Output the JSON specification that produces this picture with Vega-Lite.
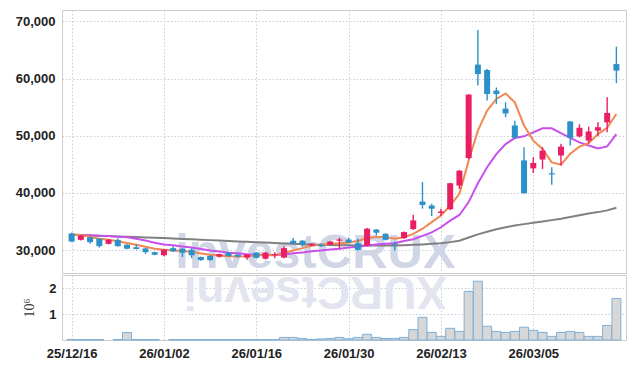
{
  "$schema": "https://vega.github.io/schema/vega-lite/v6.json",
  "padding": {"left": 13, "top": 9, "right": 8, "bottom": 5},
  "background": "white",
  "spacing": 0,
  "datasets": {
    "ohlc": [
      {"i":0,"date":"25/12/16","open":32900,"high":33050,"low":31400,"close":31500,"vol":20000,"ma5":32750,"ma20":32700,"ma60":32700},
      {"i":1,"date":"25/12/17","open":31800,"high":32650,"low":31700,"close":32550,"vol":20000,"ma5":32600,"ma20":32650,"ma60":32640},
      {"i":2,"date":"25/12/18","open":32250,"high":32400,"low":31100,"close":31400,"vol":20000,"ma5":32350,"ma20":32600,"ma60":32580},
      {"i":3,"date":"25/12/19","open":32000,"high":32100,"low":30450,"close":30700,"vol":20000,"ma5":32000,"ma20":32500,"ma60":32520},
      {"i":4,"date":"25/12/22","open":31100,"high":31950,"low":31000,"close":31800,"vol":null,"ma5":31800,"ma20":32450,"ma60":32460},
      {"i":5,"date":"25/12/23","open":31800,"high":32050,"low":30600,"close":30700,"vol":20000,"ma5":31550,"ma20":32350,"ma60":32400},
      {"i":6,"date":"25/12/24","open":30950,"high":31050,"low":30150,"close":30250,"vol":290000,"ma5":31250,"ma20":32250,"ma60":32340},
      {"i":7,"date":"25/12/26","open":30500,"high":31050,"low":30100,"close":30200,"vol":20000,"ma5":30950,"ma20":32000,"ma60":32280},
      {"i":8,"date":"25/12/29","open":30300,"high":30400,"low":29350,"close":29650,"vol":20000,"ma5":30600,"ma20":31700,"ma60":32220},
      {"i":9,"date":"25/12/30","open":29650,"high":29700,"low":29100,"close":29200,"vol":20000,"ma5":30250,"ma20":31300,"ma60":32160},
      {"i":10,"date":"26/01/02","open":29100,"high":30200,"low":28950,"close":30100,"vol":null,"ma5":30050,"ma20":31000,"ma60":32100},
      {"i":11,"date":"26/01/05","open":30350,"high":30700,"low":29700,"close":29800,"vol":20000,"ma5":29950,"ma20":30850,"ma60":32030},
      {"i":12,"date":"26/01/06","open":30250,"high":30350,"low":28800,"close":29550,"vol":20000,"ma5":29850,"ma20":30650,"ma60":31960},
      {"i":13,"date":"26/01/07","open":30050,"high":30350,"low":28600,"close":29100,"vol":20000,"ma5":29700,"ma20":30450,"ma60":31890},
      {"i":14,"date":"26/01/08","open":28800,"high":28900,"low":28150,"close":28250,"vol":20000,"ma5":29400,"ma20":30200,"ma60":31820},
      {"i":15,"date":"26/01/09","open":29000,"high":29100,"low":28150,"close":28250,"vol":20000,"ma5":29200,"ma20":29950,"ma60":31750},
      {"i":16,"date":"26/01/12","open":28850,"high":29400,"low":28700,"close":29300,"vol":20000,"ma5":29050,"ma20":29750,"ma60":31680},
      {"i":17,"date":"26/01/13","open":29550,"high":29650,"low":28850,"close":28950,"vol":20000,"ma5":28950,"ma20":29550,"ma60":31610},
      {"i":18,"date":"26/01/14","open":29200,"high":29300,"low":28700,"close":28850,"vol":20000,"ma5":28900,"ma20":29450,"ma60":31530},
      {"i":19,"date":"26/01/15","open":28700,"high":29300,"low":28300,"close":29200,"vol":20000,"ma5":28950,"ma20":29300,"ma60":31460},
      {"i":20,"date":"26/01/16","open":29550,"high":29650,"low":28550,"close":28650,"vol":20000,"ma5":29050,"ma20":29200,"ma60":31390},
      {"i":21,"date":"26/01/19","open":28500,"high":29700,"low":28350,"close":29550,"vol":20000,"ma5":29100,"ma20":29150,"ma60":31320},
      {"i":22,"date":"26/01/20","open":29100,"high":29650,"low":28600,"close":29300,"vol":20000,"ma5":29100,"ma20":29150,"ma60":31250},
      {"i":23,"date":"26/01/21","open":28700,"high":30700,"low":28600,"close":30350,"vol":100000,"ma5":29500,"ma20":29250,"ma60":31180},
      {"i":24,"date":"26/01/22","open":31650,"high":32100,"low":31050,"close":31150,"vol":100000,"ma5":29950,"ma20":29450,"ma60":31110},
      {"i":25,"date":"26/01/23","open":31650,"high":31750,"low":30600,"close":31000,"vol":60000,"ma5":30350,"ma20":29600,"ma60":31050},
      {"i":26,"date":"26/01/26","open":30800,"high":31200,"low":30700,"close":31100,"vol":20000,"ma5":30800,"ma20":29800,"ma60":30990},
      {"i":27,"date":"26/01/27","open":31000,"high":31100,"low":30600,"close":30700,"vol":40000,"ma5":30950,"ma20":29950,"ma60":30940},
      {"i":28,"date":"26/01/28","open":30950,"high":31600,"low":30850,"close":31500,"vol":60000,"ma5":31100,"ma20":30100,"ma60":30900},
      {"i":29,"date":"26/01/29","open":31650,"high":32150,"low":30250,"close":31850,"vol":100000,"ma5":31200,"ma20":30250,"ma60":30870},
      {"i":30,"date":"26/01/30","open":31850,"high":32200,"low":31250,"close":31350,"vol":50000,"ma5":31350,"ma20":30450,"ma60":30840},
      {"i":31,"date":"26/02/02","open":31200,"high":32000,"low":29950,"close":30050,"vol":100000,"ma5":31600,"ma20":30600,"ma60":30820},
      {"i":32,"date":"26/02/03","open":30800,"high":33850,"low":30700,"close":33750,"vol":220000,"ma5":32100,"ma20":30800,"ma60":30810},
      {"i":33,"date":"26/02/04","open":33600,"high":33700,"low":32550,"close":33050,"vol":100000,"ma5":32300,"ma20":31000,"ma60":30800},
      {"i":34,"date":"26/02/05","open":32850,"high":32950,"low":31700,"close":31800,"vol":60000,"ma5":32300,"ma20":31100,"ma60":30800},
      {"i":35,"date":"26/02/06","open":31100,"high":31500,"low":29900,"close":30950,"vol":60000,"ma5":32000,"ma20":31200,"ma60":30820},
      {"i":36,"date":"26/02/09","open":32100,"high":33250,"low":32000,"close":33150,"vol":100000,"ma5":32250,"ma20":31600,"ma60":30860},
      {"i":37,"date":"26/02/10","open":33700,"high":36200,"low":33500,"close":35200,"vol":400000,"ma5":32850,"ma20":31900,"ma60":30920},
      {"i":38,"date":"26/02/11","open":38500,"high":41900,"low":37250,"close":37900,"vol":870000,"ma5":33750,"ma20":32500,"ma60":31000},
      {"i":39,"date":"26/02/12","open":37800,"high":38100,"low":35950,"close":37250,"vol":290000,"ma5":34900,"ma20":33100,"ma60":31100},
      {"i":40,"date":"26/02/13","open":36500,"high":37250,"low":35950,"close":36750,"vol":140000,"ma5":36050,"ma20":34000,"ma60":31220},
      {"i":41,"date":"26/02/19","open":37150,"high":41800,"low":37000,"close":41700,"vol":450000,"ma5":37800,"ma20":35150,"ma60":31400},
      {"i":42,"date":"26/02/20","open":41300,"high":44000,"low":40700,"close":43900,"vol":330000,"ma5":39850,"ma20":36150,"ma60":31650},
      {"i":43,"date":"26/02/23","open":46100,"high":57300,"low":45900,"close":57200,"vol":1870000,"ma5":45650,"ma20":38400,"ma60":32200},
      {"i":44,"date":"26/02/24","open":62450,"high":68500,"low":58800,"close":60800,"vol":2260000,"ma5":50900,"ma20":41700,"ma60":32750},
      {"i":45,"date":"26/02/25","open":61500,"high":61700,"low":56150,"close":57300,"vol":530000,"ma5":54400,"ma20":44500,"ma60":33200},
      {"i":46,"date":"26/02/26","open":57900,"high":58450,"low":55550,"close":57300,"vol":330000,"ma5":56450,"ma20":46800,"ma60":33650},
      {"i":47,"date":"26/02/27","open":54750,"high":55850,"low":53250,"close":53900,"vol":290000,"ma5":57400,"ma20":48550,"ma60":34000},
      {"i":48,"date":"26/03/03","open":51800,"high":52650,"low":49500,"close":49650,"vol":330000,"ma5":55850,"ma20":49600,"ma60":34300},
      {"i":49,"date":"26/03/04","open":45700,"high":48000,"low":39900,"close":39950,"vol":490000,"ma5":51800,"ma20":49900,"ma60":34550},
      {"i":50,"date":"26/03/05","open":44300,"high":46250,"low":43500,"close":45250,"vol":370000,"ma5":49150,"ma20":50600,"ma60":34800},
      {"i":51,"date":"26/03/06","open":45850,"high":48000,"low":44200,"close":47400,"vol":290000,"ma5":47700,"ma20":51300,"ma60":35000},
      {"i":52,"date":"26/03/09","open":43450,"high":44500,"low":41450,"close":43250,"vol":140000,"ma5":45350,"ma20":51300,"ma60":35250},
      {"i":53,"date":"26/03/10","open":46550,"high":48600,"low":44800,"close":48100,"vol":290000,"ma5":44950,"ma20":50450,"ma60":35500},
      {"i":54,"date":"26/03/11","open":52500,"high":52600,"low":48300,"close":49650,"vol":330000,"ma5":46850,"ma20":49650,"ma60":35800},
      {"i":55,"date":"26/03/12","open":49900,"high":52000,"low":49700,"close":51400,"vol":290000,"ma5":48100,"ma20":48850,"ma60":36100},
      {"i":56,"date":"26/03/13","open":49150,"high":51600,"low":48700,"close":50750,"vol":140000,"ma5":48700,"ma20":48300,"ma60":36400},
      {"i":57,"date":"26/03/16","open":50900,"high":52350,"low":49900,"close":51500,"vol":140000,"ma5":50300,"ma20":47800,"ma60":36650},
      {"i":58,"date":"26/03/17","open":52350,"high":56750,"low":50600,"close":54000,"vol":560000,"ma5":51400,"ma20":48150,"ma60":36950},
      {"i":59,"date":"26/03/18","open":62550,"high":65600,"low":59200,"close":61400,"vol":1600000,"ma5":53800,"ma20":50300,"ma60":37400}
    ],
    "mark": [{"text": "investCRUX", "mirror": "XURCtsevni"}]
  },
  "vconcat": [
    {
      "width": 564,
      "height": 263,
      "layer": [
        {
          "data": {"name": "mark"},
          "mark": {"type": "text", "font": "Liberation Sans", "fontWeight": "bold", "fontSize": 49, "color": "#d1d6e6", "align": "center", "baseline": "alphabetic", "clip": true},
          "encoding": {
            "x": {"datum": 26.4, "type": "quantitative"},
            "y": {"datum": 26800, "type": "quantitative"},
            "text": {"field": "text"}
          }
        },
        {
          "data": {"name": "ohlc"},
          "layer": [
            {
              "mark": {"type": "line", "color": "#808080", "strokeWidth": 2},
              "encoding": {"x": {"field": "i", "type": "quantitative"}, "y": {"field": "ma60", "type": "quantitative"}}
            },
            {
              "mark": {"type": "line", "color": "#c850eb", "strokeWidth": 2},
              "encoding": {"x": {"field": "i", "type": "quantitative"}, "y": {"field": "ma20", "type": "quantitative"}}
            },
            {
              "mark": {"type": "line", "color": "#f08850", "strokeWidth": 2},
              "encoding": {"x": {"field": "i", "type": "quantitative"}, "y": {"field": "ma5", "type": "quantitative"}}
            },
            {
              "mark": {"type": "rule", "strokeWidth": 1.4},
              "encoding": {
                "x": {"field": "i", "type": "quantitative"},
                "y": {"field": "low", "type": "quantitative"},
                "y2": {"field": "high"},
                "color": {"condition": {"test": "datum.close >= datum.open", "value": "#e91e63"}, "value": "#2c91c8"}
              }
            },
            {
              "mark": {"type": "bar", "width": 6},
              "encoding": {
                "x": {"field": "i", "type": "quantitative"},
                "y": {"field": "open", "type": "quantitative"},
                "y2": {"field": "close"},
                "color": {"condition": {"test": "datum.close >= datum.open", "value": "#e91e63"}, "value": "#2c91c8"}
              }
            }
          ]
        }
      ],
      "encoding": {
        "x": {
          "type": "quantitative",
          "scale": {"domain": [-0.5, 59.5], "nice": false, "zero": false},
          "axis": {"values": [0, 10, 20, 30, 40, 50], "labels": false, "title": null, "grid": true}
        },
        "y": {
          "type": "quantitative",
          "scale": {"domain": [26000, 72000], "nice": false, "zero": false},
          "axis": {"values": [30000, 40000, 50000, 60000, 70000], "format": ",.0f", "title": null, "grid": true, "minExtent": 48, "maxExtent": 48, "labelPadding": 7}
        }
      }
    },
    {
      "width": 564,
      "height": 65,
      "layer": [
        {
          "data": {"name": "mark"},
          "mark": {"type": "text", "font": "Liberation Sans", "fontWeight": "bold", "fontSize": 46, "color": "#e2e5ef", "align": "center", "baseline": "alphabetic", "angle": 180, "clip": true},
          "encoding": {
            "x": {"datum": 26.4, "type": "quantitative"},
            "y": {"datum": 2430000, "type": "quantitative"},
            "text": {"field": "mirror"}
          }
        },
        {
          "data": {"name": "ohlc"},
          "mark": {"type": "bar", "width": 9, "fill": "#d7d7d7", "stroke": "#7fb0d9", "strokeWidth": 1},
          "encoding": {
            "x": {"field": "i", "type": "quantitative"},
            "y": {"field": "vol", "type": "quantitative"}
          }
        }
      ],
      "encoding": {
        "x": {
          "type": "quantitative",
          "scale": {"domain": [-0.5, 59.5], "nice": false, "zero": false},
          "axis": {"values": [0, 10, 20, 30, 40, 50], "title": null, "grid": true, "labelPadding": 7, "labelFlush": false, "labelExpr": "['25/12/16','26/01/02','26/01/16','26/01/30','26/02/13','26/03/05'][round(datum.value/10)]"}
        },
        "y": {
          "type": "quantitative",
          "scale": {"domain": [0, 2500000], "nice": false},
          "axis": {"values": [1000000, 2000000], "labelExpr": "datum.value/1000000", "title": "10⁶", "titleFont": "Liberation Serif", "titleFontWeight": "normal", "titleFontSize": 14, "titleColor": "#333", "titlePadding": 6, "grid": true, "minExtent": 20, "maxExtent": 20, "labelPadding": 6}
        }
      }
    }
  ],
  "config": {
    "view": {"stroke": "#cccccc"},
    "axis": {
      "labelFont": "Liberation Sans",
      "labelFontSize": 13,
      "labelFontWeight": "bold",
      "labelColor": "#222222",
      "gridColor": "#c9ccdb",
      "gridDash": [1.5, 2],
      "gridWidth": 1,
      "domain": false,
      "ticks": false,
      "tickSize": 0
    }
  }
}
